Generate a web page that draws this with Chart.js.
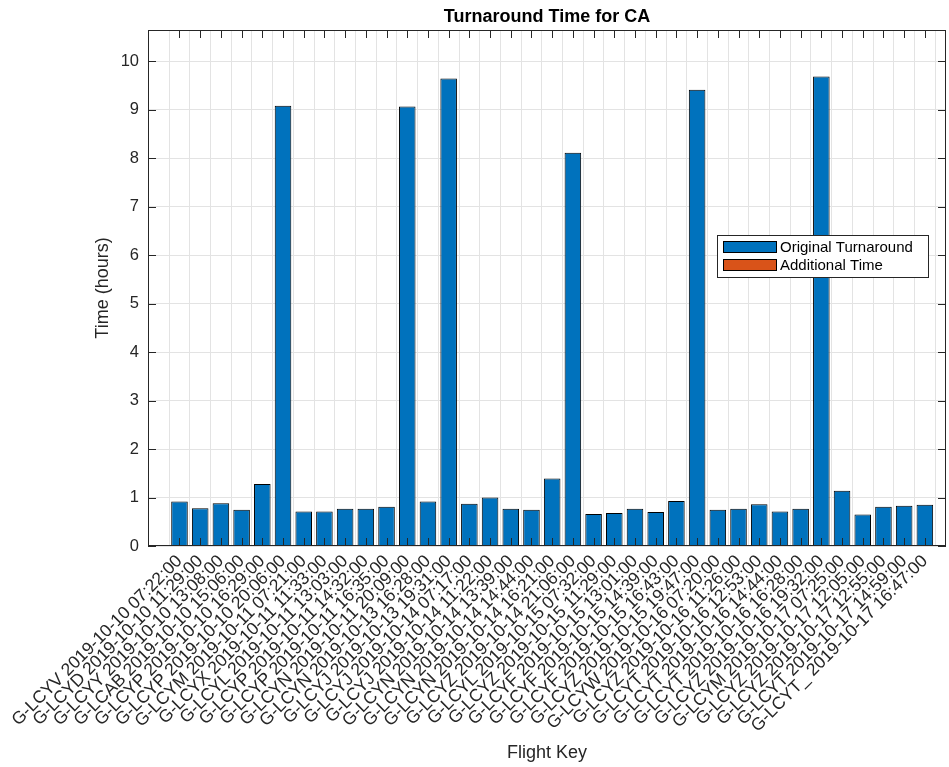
<!DOCTYPE html>
<html>
<head>
<meta charset="utf-8">
<script src="https://cdn.jsdelivr.net/npm/chart.js@4/dist/chart.umd.min.js"></script>
<style>
  html, body { margin: 0; padding: 0; background: #fff; }
  #wrap { width: 949px; height: 767px; }
</style>
</head>
<body>
<div id="wrap"><canvas id="chart" width="949" height="767"></canvas></div>
<script>
// ===== DATA =====
const flightKeys = [
  'G-LCYV 2019-10-10 07:22:00', 'G-LCYD 2019-10-10 11:29:00', 'G-LCYY 2019-10-10 13:08:00',
  'G-LCAB 2019-10-10 15:06:00', 'G-LCYP 2019-10-10 16:29:00', 'G-LCYP 2019-10-10 20:06:00',
  'G-LCYM 2019-10-11 07:21:00', 'G-LCYX 2019-10-11 11:33:00', 'G-LCYL 2019-10-11 13:03:00',
  'G-LCYP 2019-10-11 14:32:00', 'G-LCYP 2019-10-11 16:35:00', 'G-LCYN 2019-10-11 20:09:00',
  'G-LCYN 2019-10-13 16:28:00', 'G-LCYJ 2019-10-13 19:31:00', 'G-LCYJ 2019-10-14 07:17:00',
  'G-LCYJ 2019-10-14 11:22:00', 'G-LCYN 2019-10-14 13:39:00', 'G-LCYN 2019-10-14 14:44:00',
  'G-LCYN 2019-10-14 16:21:00', 'G-LCYZ 2019-10-14 21:06:00', 'G-LCYL 2019-10-15 07:32:00',
  'G-LCYZ 2019-10-15 11:29:00', 'G-LCYF 2019-10-15 13:01:00', 'G-LCYF 2019-10-15 14:39:00',
  'G-LCYF 2019-10-15 16:43:00', 'G-LCYZ 2019-10-15 19:47:00', 'G-LCYW 2019-10-16 07:20:00',
  'G-LCYZ 2019-10-16 11:26:00', 'G-LCYT 2019-10-16 12:53:00', 'G-LCYT 2019-10-16 14:44:00',
  'G-LCYT 2019-10-16 16:28:00', 'G-LCYZ 2019-10-16 19:32:00', 'G-LCYM 2019-10-17 07:25:00',
  'G-LCYZ 2019-10-17 12:05:00', 'G-LCYZ 2019-10-17 12:55:00', 'G-LCYT 2019-10-17 14:59:00',
  'G-LCYT_ 2019-10-17 16:47:00'
];

const originalTurnaround = [
  0.92, 0.78, 0.88, 0.75, 1.28, 9.08, 0.71, 0.71, 0.77, 0.77, 0.81, 9.06,
  0.92, 9.64, 0.87, 1.00, 0.77, 0.75, 1.39, 8.11, 0.66, 0.68, 0.77, 0.70,
  0.93, 9.41, 0.75, 0.77, 0.86, 0.71, 0.77, 9.68, 1.14, 0.65, 0.81, 0.83, 0.85
];

const additionalTime = [
  0, 0, 0, 0, 0, 0, 0, 0, 0, 0, 0, 0,
  0, 0, 0, 0, 0, 0, 0, 0, 0, 0, 0, 0,
  0, 0, 0, 0, 0, 0, 0, 0, 0, 0, 0, 0, 0
];

const yTicks = [0, 1, 2, 3, 4, 5, 6, 7, 8, 9, 10];

// ===== STYLE =====
const FONT = 'Liberation Sans, Arial, Helvetica, sans-serif';
const AXIS_COLOR = '#262626';
const GRID_COLOR = '#e3e3e3';

// box round the axes with inward ticks, MATLAB style
const axesBox = {
  id: 'axesBox',
  afterDatasetsDraw(chart) {
    const { ctx, chartArea: a, scales: { x, y } } = chart;
    const len = 8;
    ctx.save();
    ctx.strokeStyle = AXIS_COLOR;
    ctx.lineWidth = 1;
    ctx.beginPath();
    x.ticks.forEach(t => {
      const px = Math.round(x.getPixelForValue(t.value)) + 0.5;
      ctx.moveTo(px, a.bottom); ctx.lineTo(px, a.bottom - len);
      ctx.moveTo(px, a.top);    ctx.lineTo(px, a.top + len);
    });
    y.ticks.forEach(t => {
      const py = Math.round(y.getPixelForValue(t.value)) + 0.5;
      ctx.moveTo(a.left, py);  ctx.lineTo(a.left + len, py);
      ctx.moveTo(a.right, py); ctx.lineTo(a.right - len, py);
    });
    ctx.stroke();
    ctx.strokeRect(Math.round(a.left) + 0.5, Math.round(a.top) + 0.5,
                   Math.round(a.right - a.left) - 1, Math.round(a.bottom - a.top) - 1);
    ctx.restore();
  }
};

// legend box inside the axes, right side
const insideLegend = {
  id: 'insideLegend',
  afterDraw(chart, args, opts) {
    const { ctx, chartArea: a } = chart;
    const sets = chart.data.datasets;
    const right = a.right - opts.offsetRight;
    const top = a.top + opts.offsetTop;
    const w = 211, rowH = 18, padY = 4;
    const left = right - w;
    ctx.save();
    ctx.fillStyle = '#fff';
    ctx.fillRect(left, top, w, sets.length * rowH + padY * 2 - 2);
    ctx.strokeStyle = AXIS_COLOR;
    ctx.lineWidth = 1;
    ctx.strokeRect(left + 0.5, top + 0.5, w, sets.length * rowH + padY * 2 - 2);
    ctx.font = '15px ' + FONT;
    ctx.textBaseline = 'middle';
    sets.forEach((ds, i) => {
      const cy = top + padY + 2 + i * rowH + 6;
      ctx.fillStyle = ds.backgroundColor;
      ctx.fillRect(left + 6, cy - 6, 54, 12);
      ctx.strokeStyle = '#000';
      ctx.strokeRect(left + 6.5, cy - 5.5, 53, 11);
      ctx.fillStyle = '#000';
      ctx.fillText(ds.label, left + 63, cy + 1);
    });
    ctx.restore();
  }
};

new Chart(document.getElementById('chart'), {
  type: 'bar',
  data: {
    datasets: [
      {
        label: 'Original Turnaround',
        data: originalTurnaround.map((v, i) => ({ x: i + 1, y: v })),
        backgroundColor: '#0072BD',
        borderColor: '#000000',
        borderWidth: 1,
      },
      {
        label: 'Additional Time',
        data: additionalTime.map((v, i) => ({ x: i + 1, y: v })),
        backgroundColor: '#D95319',
        borderColor: '#000000',
        borderWidth: 0,
      }
    ]
  },
  plugins: [axesBox, insideLegend],
  options: {
    responsive: false,
    animation: false,
    layout: { padding: { left: 84, right: 3, top: 0, bottom: 0 } },
    datasets: { bar: { barPercentage: 0.8, categoryPercentage: 1.0 } },
    plugins: {
      legend: { display: false },
      tooltip: { enabled: false },
      insideLegend: { offsetRight: 18, offsetTop: 205 },
      title: {
        display: true,
        fullSize: false,
        text: 'Turnaround Time for CA',
        color: '#000',
        font: { family: FONT, size: 18, weight: 'bold' },
        padding: { top: 6, bottom: 2.4 },
      }
    },
    scales: {
      x: {
        type: 'linear',
        stacked: true,
        min: 0,
        max: flightKeys.length + 0.5,
        afterBuildTicks: s => { s.ticks = flightKeys.map((_, i) => ({ value: i + 1 })); },
        afterFit: s => { s.height = 221; },
        ticks: {
          autoSkip: false,
          minRotation: 45,
          maxRotation: 45,
          padding: 5,
          color: AXIS_COLOR,
          font: { family: FONT, size: 17.5 },
          callback: v => flightKeys[v - 1] ?? '',
        },
        grid: { color: GRID_COLOR, drawTicks: false },
        border: { display: false },
        title: {
          display: true,
          text: 'Flight Key',
          color: AXIS_COLOR,
          font: { family: FONT, size: 18 },
          padding: { top: 4, bottom: 3 },
        }
      },
      y: {
        stacked: true,
        min: 0,
        max: 10.64,
        afterBuildTicks: s => { s.ticks = yTicks.map(v => ({ value: v })); },
        afterFit: s => { s.width = 64; },
        ticks: {
          padding: 9,
          color: AXIS_COLOR,
          font: { family: FONT, size: 16.5 },
        },
        grid: { color: GRID_COLOR, drawTicks: false },
        border: { display: false },
        title: {
          display: true,
          text: 'Time (hours)',
          color: AXIS_COLOR,
          font: { family: FONT, size: 18 },
          padding: { top: 8, bottom: 0 },
        }
      }
    }
  }
});
</script>
</body>
</html>
